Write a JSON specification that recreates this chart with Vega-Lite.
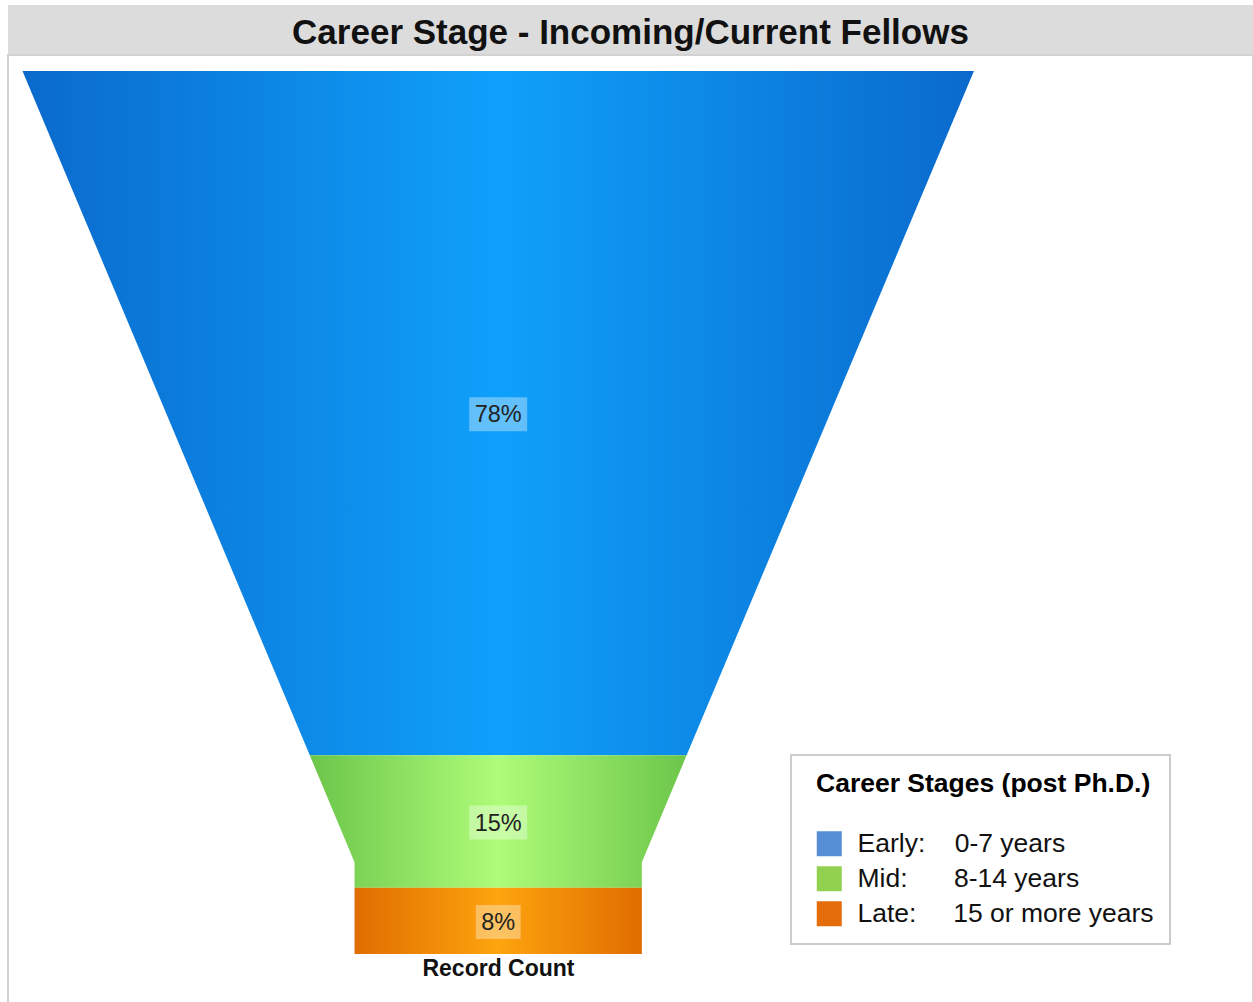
{
  "$schema": "https://vega.github.io/schema/vega-lite/v6.json",
  "background": "white",
  "padding": {"left": 7, "top": 5, "right": 0, "bottom": 0},
  "spacing": 0,
  "bounds": "flush",
  "datasets": {
    "funnel": [
      {"stage": "Early", "level": 0, "left": -50, "right": 50},
      {"stage": "Early", "level": 77.5, "left": -19.8, "right": 19.8},
      {"stage": "Mid", "level": 77.5, "left": -19.8, "right": 19.8},
      {"stage": "Mid", "level": 89.6, "left": -15.1, "right": 15.1},
      {"stage": "Mid", "level": 92.5, "left": -15.1, "right": 15.1},
      {"stage": "Late", "level": 92.5, "left": -15.1, "right": 15.1},
      {"stage": "Late", "level": 100, "left": -15.1, "right": 15.1}
    ],
    "labels": [
      {"stage": "Early", "label": "78%", "start": 0, "end": 77.5},
      {"stage": "Mid", "label": "15%", "start": 77.5, "end": 92.5},
      {"stage": "Late", "label": "8%", "start": 92.5, "end": 100}
    ],
    "heading": [{"title": "Career Stage - Incoming/Current Fellows"}]
  },
  "vconcat": [
    {
      "width": 1245,
      "height": 50,
      "view": {"fill": "#dcdcdc", "stroke": null},
      "data": {"name": "heading"},
      "mark": {"type": "text", "font": "Liberation Sans", "fontWeight": "bold", "fontSize": 35, "color": "#111111", "align": "center", "baseline": "middle", "dy": 3},
      "encoding": {"text": {"field": "title", "type": "nominal"}}
    },
    {
      "width": 1245,
      "height": 948,
      "view": {"fill": "white", "stroke": "#d2d2d2", "strokeWidth": 2},
      "layer": [
        {
          "data": {"name": "labels"},
          "transform": [
            {"fold": ["start", "end"], "as": ["edge", "level"]},
            {"aggregate": [{"op": "mean", "field": "level", "as": "mid"}], "groupby": ["stage", "label"]}
          ],
          "mark": {"type": "square", "size": 16, "opacity": 1},
          "encoding": {
            "x": {"datum": 0, "type": "quantitative", "scale": {"domain": [-51.52, 79.33], "nice": false, "zero": false}, "title": "Record Count"},
            "y": {"field": "mid", "type": "quantitative", "scale": {"domain": [-1.812, 105.55], "reverse": true, "nice": false, "zero": false}, "axis": null},
            "color": {
              "field": "stage",
              "type": "nominal",
              "scale": {"domain": ["Early", "Mid", "Late"], "range": ["#558ed5", "#92d050", "#e46c0a"]},
              "legend": {
                "title": "Career Stages (post Ph.D.)",
                "orient": "none",
                "legendX": 783,
                "legendY": 750,
                "direction": "vertical",
                "padding": 16,
                "fillColor": "white",
                "strokeColor": "#cccccc",
                "titleFont": "Liberation Sans",
                "titleFontSize": 26.5,
                "titleFontWeight": "bold",
                "titleColor": "#000000",
                "titlePadding": 33,
                "titleLimit": 600,
                "labelFont": "Liberation Sans",
                "labelFontSize": 26.5,
                "labelColor": "#111111",
                "labelLimit": 600,
                "labelOffset": 15,
                "symbolType": "square",
                "symbolSize": 625,
                "symbolStrokeWidth": 0,
                "symbolOpacity": 1,
                "symbolOffset": 9,
                "rowPadding": 8,
                "labelExpr": "datum.label === 'Early' ? 'Early:\u00a0\u00a0\u00a0\u00a00-7 years' : datum.label === 'Mid' ? 'Mid:\u00a0\u00a0\u00a0\u00a0\u00a0\u00a0\u200a8-14 years' : 'Late:\u00a0\u00a0\u00a0\u00a0\u00a015 or more years'",
                "encode": {
                  "title": {"update": {"dx": {"value": 9}}},
                  "legend": {"update": {"strokeWidth": {"value": 2}}}
                }
              }
            }
          }
        },
        {
          "data": {"name": "funnel"},
          "transform": [{"filter": "datum.stage === 'Early'"}],
          "mark": {
            "type": "area",
            "orient": "horizontal",
            "color": {"gradient": "linear", "x1": 0, "y1": 0, "x2": 1, "y2": 0, "stops": [
              {"offset": 0, "color": "#0a6acc"},
              {"offset": 0.5, "color": "#0fa0fb"},
              {"offset": 1, "color": "#0a6acc"}
            ]}
          },
          "encoding": {
            "y": {"field": "level", "type": "quantitative", "scale": {"domain": [-1.812, 105.55], "reverse": true, "nice": false, "zero": false}, "axis": null},
            "x": {"field": "left", "type": "quantitative", "stack": null, "scale": {"domain": [-51.52, 79.33], "nice": false, "zero": false}, "title": "Record Count"},
            "x2": {"field": "right"}
          }
        },
        {
          "data": {"name": "funnel"},
          "transform": [{"filter": "datum.stage === 'Mid'"}],
          "mark": {
            "type": "area",
            "orient": "horizontal",
            "color": {"gradient": "linear", "x1": 0, "y1": 0, "x2": 1, "y2": 0, "stops": [
              {"offset": 0, "color": "#6cc64a"},
              {"offset": 0.5, "color": "#aefc78"},
              {"offset": 1, "color": "#6cc64a"}
            ]}
          },
          "encoding": {
            "y": {"field": "level", "type": "quantitative", "scale": {"domain": [-1.812, 105.55], "reverse": true, "nice": false, "zero": false}, "axis": null},
            "x": {"field": "left", "type": "quantitative", "stack": null, "scale": {"domain": [-51.52, 79.33], "nice": false, "zero": false}, "title": "Record Count"},
            "x2": {"field": "right"}
          }
        },
        {
          "data": {"name": "funnel"},
          "transform": [{"filter": "datum.stage === 'Late'"}],
          "mark": {
            "type": "area",
            "orient": "horizontal",
            "color": {"gradient": "linear", "x1": 0, "y1": 0, "x2": 1, "y2": 0, "stops": [
              {"offset": 0, "color": "#e06d00"},
              {"offset": 0.5, "color": "#fda40e"},
              {"offset": 1, "color": "#e06d00"}
            ]}
          },
          "encoding": {
            "y": {"field": "level", "type": "quantitative", "scale": {"domain": [-1.812, 105.55], "reverse": true, "nice": false, "zero": false}, "axis": null},
            "x": {"field": "left", "type": "quantitative", "stack": null, "scale": {"domain": [-51.52, 79.33], "nice": false, "zero": false}, "title": "Record Count"},
            "x2": {"field": "right"}
          }
        },
        {
          "data": {"name": "labels"},
          "transform": [
            {"fold": ["start", "end"], "as": ["edge", "level"]},
            {"aggregate": [{"op": "mean", "field": "level", "as": "mid"}], "groupby": ["stage", "label"]}
          ],
          "mark": {"type": "point", "filled": true, "color": "white", "opacity": 1, "fillOpacity": 0.35, "strokeWidth": 0, "size": 1156, "yOffset": 1},
          "encoding": {
            "x": {"datum": 0, "type": "quantitative", "scale": {"domain": [-51.52, 79.33], "nice": false, "zero": false}, "title": "Record Count"},
            "y": {"field": "mid", "type": "quantitative", "scale": {"domain": [-1.812, 105.55], "reverse": true, "nice": false, "zero": false}, "axis": null},
            "shape": {
              "condition": {"test": "datum.stage === 'Late'", "value": "M-1.32,-1H1.32V1H-1.32Z"},
              "value": "M-1.706,-1H1.706V1H-1.706Z"
            }
          }
        },
        {
          "data": {"name": "labels"},
          "transform": [
            {"fold": ["start", "end"], "as": ["edge", "level"]},
            {"aggregate": [{"op": "mean", "field": "level", "as": "mid"}], "groupby": ["stage", "label"]}
          ],
          "mark": {"type": "text", "font": "Liberation Sans", "fontSize": 23.5, "color": "#222222", "align": "center", "baseline": "middle", "dy": 2},
          "encoding": {
            "x": {"datum": 0, "type": "quantitative", "scale": {"domain": [-51.52, 79.33], "nice": false, "zero": false}, "title": "Record Count"},
            "y": {"field": "mid", "type": "quantitative", "scale": {"domain": [-1.812, 105.55], "reverse": true, "nice": false, "zero": false}, "axis": null},
            "text": {"field": "label", "type": "nominal"}
          }
        }
      ]
    }
  ],
  "config": {
    "axisX": {
      "labels": false,
      "ticks": false,
      "domain": false,
      "grid": false,
      "titleFont": "Liberation Sans",
      "titleFontSize": 23,
      "titleFontWeight": "bold",
      "titleColor": "#111111",
      "titleAlign": "center",
      "titleBaseline": "top",
      "titleX": 490,
      "titleY": -46
    }
  }
}
